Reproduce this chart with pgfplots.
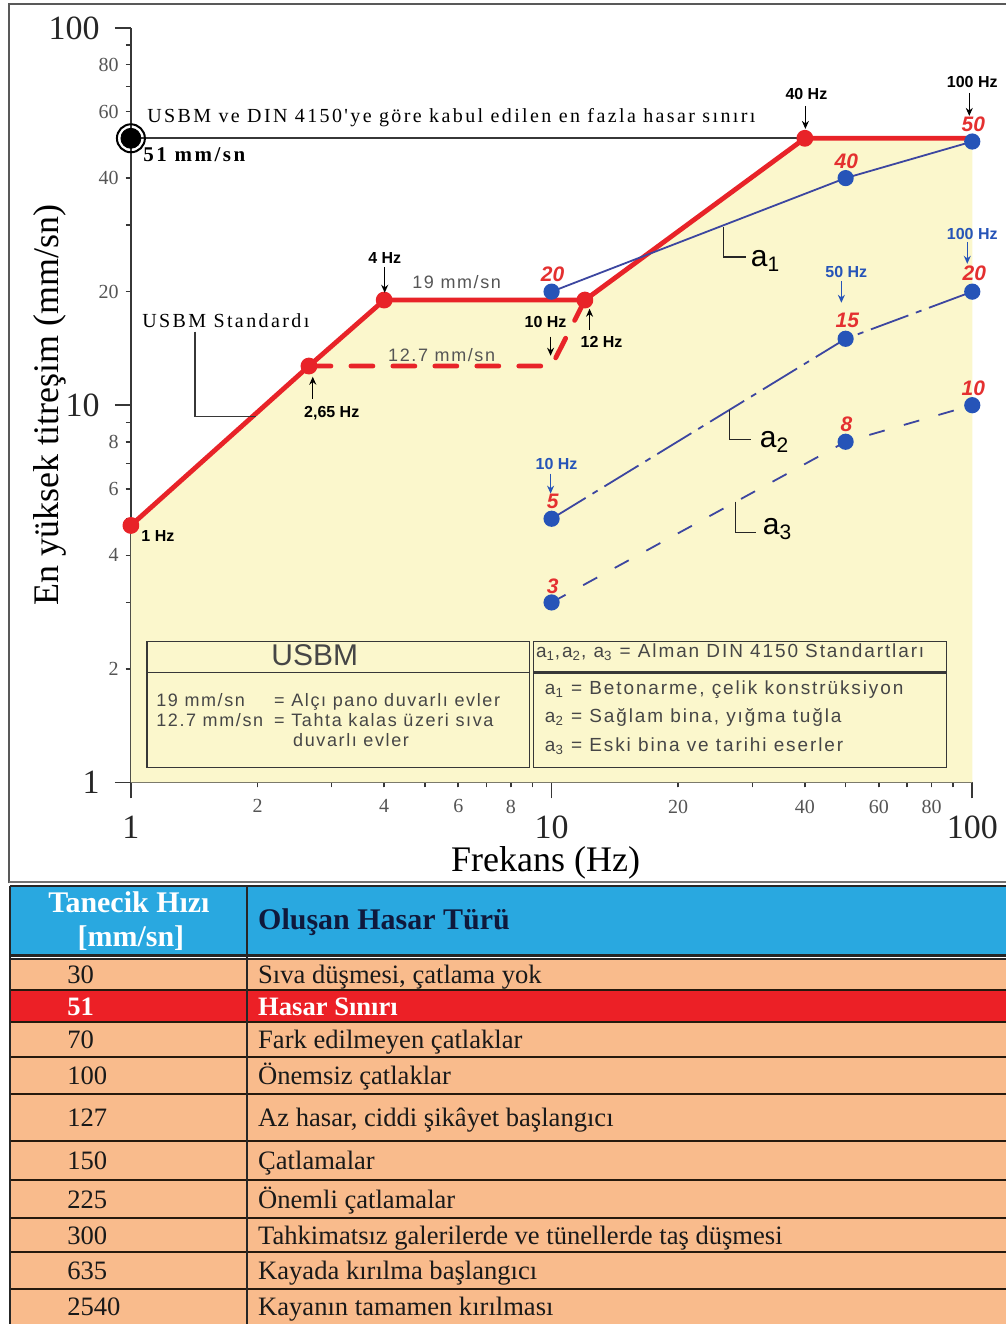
\documentclass[border=0pt]{standalone}
\usepackage{fontspec}
\setmainfont{Liberation Serif}
\setsansfont{Liberation Sans}
\newfontfamily\spserif[LetterSpace=12]{Liberation Serif}
\newfontfamily\spsans[LetterSpace=9]{Liberation Sans}
\newfontfamily\spsansb[LetterSpace=10]{Liberation Sans}
\usepackage{pgfplots}
\pgfplotsset{compat=1.18}
\usetikzlibrary{arrows.meta}
\definecolor{yel}{RGB}{251,247,204}
\definecolor{redl}{RGB}{232,35,40}
\definecolor{bluem}{RGB}{38,84,184}
\definecolor{bluel}{RGB}{60,70,160}
\definecolor{rednum}{RGB}{228,48,48}
\definecolor{orangec}{RGB}{249,187,140}
\definecolor{headblue}{RGB}{41,168,224}
\definecolor{rowred}{RGB}{236,32,38}
\definecolor{axgray}{RGB}{55,55,55}
\definecolor{txtgray}{RGB}{85,85,85}
\definecolor{boxtxt}{RGB}{70,70,70}
\definecolor{navy}{RGB}{15,25,60}
\newcommand\fs[1]{\fontsize{#1}{#1}\selectfont}
\begin{document}
\begin{tikzpicture}
\begin{scope}[x=0.5pt,y=-0.5pt]
\path[use as bounding box, fill=white] (0,0) rectangle (1007,1325);
\end{scope}
\begin{axis}[
  at={(65.5pt,-391.5pt)}, anchor=south west,
  scale only axis, width=421pt, height=377.5pt,
  xmode=log, ymode=log, xmin=1, xmax=100, ymin=1, ymax=100,
  axis x line*=bottom, axis y line*=left,
  axis line style={axgray, line width=1pt},
  tick align=outside,
  xtick={1,10,100}, xticklabels={1,10,100},
  ytick={1,10,100}, yticklabels={1,10,100},
  minor xtick={2,3,4,5,6,7,8,9,20,30,40,50,60,70,80,90},
  minor ytick={2,3,4,5,6,7,8,9,20,30,40,50,60,70,80,90},
  major tick length=8pt, minor tick length=2.5pt,
  tick style={axgray, line width=0.8pt},
  xticklabel style={font=\fs{17}, text=black!85, anchor=north, inner sep=0pt, yshift=-8.5pt},
  yticklabel style={font=\fs{17}, text=black!85, anchor=east, inner sep=0pt, xshift=-7.5pt},
  extra x ticks={2,4,6,8,20,40,60,80}, extra x tick labels={2,4,6,8,20,40,60,80},
  extra y ticks={2,4,6,8,20,40,60,80}, extra y tick labels={2,4,6,8,20,40,60,80},
  extra x tick style={major tick length=2.5pt, xticklabel style={font=\fs{10}, text=txtgray, yshift=2.5pt}},
  extra y tick style={major tick length=2.5pt, yticklabel style={font=\fs{10}, text=txtgray, xshift=4pt}},
  clip=false,
]
\addplot[fill=yel, draw=none] coordinates {(1,1) (1,4.8) (2.65,12.7) (4,19) (12,19) (40,51) (100,51) (100,1)};
\addplot[axgray, line width=1pt] coordinates {(1,51) (100,51)};
\addplot[redl, line width=2.4pt, line join=round, mark=*, mark size=3pt, mark options={solid, fill=redl, draw=redl}, mark indices={1,2,3,4,5}] coordinates {(1,4.8) (2.65,12.7) (4,19) (12,19) (40,51) (100,51)};
\addplot[redl, line width=2.4pt, dash pattern=on 11pt off 10pt, line cap=round] coordinates {(2.65,12.7) (10,12.7) (12,19)};
\addplot[bluel, line width=0.9pt, mark=*, mark size=3.6pt, mark options={solid, fill=bluem, draw=bluem}] coordinates {(10,20) (50,40) (100,50)};
\addplot[bluel, line width=0.9pt, dash pattern=on 20pt off 4pt on 3pt off 4pt, mark=*, mark size=3.6pt, mark options={solid, fill=bluem, draw=bluem}] coordinates {(10,5) (50,15) (100,20)};
\addplot[bluel, line width=0.9pt, dash pattern=on 8pt off 10pt, mark=*, mark size=3.6pt, mark options={solid, fill=bluem, draw=bluem}] coordinates {(10,3) (50,8) (100,10)};
\addplot[only marks, mark=o, mark size=7pt, mark options={line width=1pt, draw=black}] coordinates {(1,51)};
\addplot[only marks, mark=*, mark size=5pt, mark options={fill=black, draw=black}] coordinates {(1,51)};
\end{axis}
\begin{scope}[x=0.5pt,y=-0.5pt,
  hz/.style={font=\sffamily\bfseries\fs{8}, inner sep=0pt},
  rn/.style={font=\sffamily\bfseries\itshape\fs{10.5}, text=rednum, inner sep=0pt},
  arr/.style={-{Stealth[length=4pt,width=3.5pt]}, line width=0.7pt},
  bx/.style={anchor=base west, inner sep=0pt, font=\spsans\fs{9}, text=boxtxt},
  dx/.style={anchor=base west, inner sep=0pt, font=\spsansb\fs{9.5}, text=boxtxt},
  tb/.style={anchor=base west, inner sep=0pt, font=\fs{13.3}, text=black!90}]
% frame
\draw[black!65, line width=1.2pt] (9,884) -- (9,4) -- (1007,4);
\draw[black!55, line width=1pt] (9,882.5) -- (1007,882.5);
% axis labels
\node[rotate=90, font=\fs{18}, inner sep=0pt] at (50,405) {En yüksek titreşim (mm/sn)};
\node[anchor=base, font=\fs{18}, inner sep=0pt] at (546,872) {Frekans (Hz)};
% limit line texts
\node[anchor=base west, inner sep=0pt, font=\spserif\fs{10}] at (147,123) {USBM ve DIN 4150'ye göre kabul edilen en fazla hasar sınırı};
\node[anchor=base west, inner sep=0pt, font=\spserif\bfseries\fs{10.5}] at (143,162) {51 mm/sn};
\node[anchor=base west, inner sep=0pt, font=\spserif\fs{10}] at (142,328) {USBM Standardı};
\draw[axgray, line width=0.7pt] (195,332) -- (195,417) -- (256,417);
% Hz annotations
\node[hz] at (385,258) {4 Hz}; \draw[arr] (385,267) -- (385,293);
\node[hz] at (546,322) {10 Hz}; \draw[arr] (551,337) -- (551,356);
\node[hz] at (602,342) {12 Hz}; \draw[arr] (590,330) -- (590,309);
\node[hz] at (332,413) {2,65 Hz}; \draw[arr] (313,399) -- (313,377);
\node[hz] at (158,536) {1 Hz};
\node[hz] at (807,94) {40 Hz}; \draw[arr] (806,106) -- (806,129);
\node[hz] at (973,82) {100 Hz}; \draw[arr] (970,93) -- (970,116);
\node[hz, text=bluem] at (973,234) {100 Hz}; \draw[arr, bluem] (968,242) -- (968,264);
\node[hz, text=bluem] at (847,272) {50 Hz}; \draw[arr, bluem] (842,281) -- (842,303);
\node[hz, text=bluem] at (557,464) {10 Hz}; \draw[arr, bluem] (551,474) -- (551,494);
% red values
\node[rn] at (553,274) {20};
\node[rn] at (847,161) {40};
\node[rn] at (974,124) {50};
\node[rn] at (975,273) {20};
\node[rn] at (848,321) {15};
\node[rn] at (974,389) {10};
\node[rn] at (847,425) {8};
\node[rn] at (553,502) {5};
\node[rn] at (553,587) {3};
% mm/sn labels
\node[font=\spsans\fs{9}, text=txtgray, inner sep=0pt] at (457,282) {19 mm/sn};
\node[font=\spsans\fs{9}, text=txtgray, inner sep=0pt] at (442,355) {12.7 mm/sn};
% a labels
\draw[black!85, line width=0.7pt] (724,227) -- (724,257) -- (747,257);
\node[anchor=base west, inner sep=0pt, font=\sffamily\fs{15}] at (751,267) {a\textsubscript{1}};
\draw[black!85, line width=0.7pt] (730,410) -- (730,440) -- (752,440);
\node[anchor=base west, inner sep=0pt, font=\sffamily\fs{15}] at (760,448) {a\textsubscript{2}};
\draw[black!85, line width=0.7pt] (736,502) -- (736,533) -- (757,533);
\node[anchor=base west, inner sep=0pt, font=\sffamily\fs{15}] at (763,535) {a\textsubscript{3}};
% USBM box
\draw[axgray, line width=0.8pt] (147,642) rectangle (530,768);
\draw[axgray, line width=0.8pt] (147,673) -- (530,673);
\node[font=\sffamily\fs{15}, text=boxtxt, inner sep=0pt] at (315,656) {USBM};
\node[bx] at (156,707) {19 mm/sn};
\node[bx] at (274,707) {= Alçı pano duvarlı evler};
\node[bx] at (156,727) {12.7 mm/sn};
\node[bx] at (274,727) {= Tahta kalas üzeri sıva};
\node[bx] at (293,747) {duvarlı evler};
% DIN box
\draw[axgray, line width=0.8pt] (534,642) rectangle (947,768);
\draw[axgray, line width=1.6pt] (534,673) -- (947,673);
\node[dx] at (536,658) {a\textsubscript{1},a\textsubscript{2}, a\textsubscript{3} = Alman DIN  4150 Standartları};
\node[dx] at (545,695) {a\textsubscript{1} = Betonarme, çelik konstrüksiyon};
\node[dx] at (545,723) {a\textsubscript{2} = Sağlam bina, yığma tuğla};
\node[dx] at (545,752) {a\textsubscript{3} = Eski bina ve tarihi eserler};
% table
\fill[headblue] (10,887) rectangle (1007,956);
\fill[orangec] (10,960) rectangle (1007,1325);
\fill[rowred] (10,991) rectangle (1007,1023);
\draw[black!85, line width=0.8pt] (10,886.5) -- (1007,886.5);
\draw[black!85, line width=1.3pt] (10,956) -- (1007,956);
\draw[black!85, line width=0.8pt] (10,960) -- (1007,960);
\foreach \y in {991,1023,1058,1095,1142,1181,1219,1253,1290}
  \draw[black!80!brown, line width=0.9pt] (10,\y) -- (1007,\y);
\draw[black!85, line width=1pt] (247,886.5) -- (247,1325);
\draw[black!85, line width=1pt] (10,886.5) -- (10,1325);
\node[anchor=base, inner sep=0pt, font=\bfseries\fs{15}, text=white] at (129,913) {Tanecik Hızı};
\node[anchor=base, inner sep=0pt, font=\bfseries\fs{15}, text=white] at (131,947) {[mm/sn]};
\node[anchor=base west, inner sep=0pt, font=\bfseries\fs{15}, text=navy] at (258,930) {Oluşan Hasar Türü};
\node[tb] at (67,984.5) {30};   \node[tb] at (258,984.5) {Sıva düşmesi, çatlama yok};
\node[tb, font=\bfseries\fs{13.3}, text=white] at (67,1016) {51};   \node[tb, font=\bfseries\fs{13.3}, text=white] at (258,1016) {Hasar Sınırı};
\node[tb] at (67,1049.5) {70};  \node[tb] at (258,1049.5) {Fark edilmeyen çatlaklar};
\node[tb] at (67,1085.5) {100}; \node[tb] at (258,1085.5) {Önemsiz çatlaklar};
\node[tb] at (67,1127.5) {127}; \node[tb] at (258,1127.5) {Az hasar, ciddi şikâyet başlangıcı};
\node[tb] at (67,1170.5) {150}; \node[tb] at (258,1170.5) {Çatlamalar};
\node[tb] at (67,1209) {225};   \node[tb] at (258,1209) {Önemli çatlamalar};
\node[tb] at (67,1245) {300};   \node[tb] at (258,1245) {Tahkimatsız galerilerde ve tünellerde taş düşmesi};
\node[tb] at (67,1280.5) {635}; \node[tb] at (258,1280.5) {Kayada kırılma başlangıcı};
\node[tb] at (67,1316.5) {2540};\node[tb] at (258,1316.5) {Kayanın tamamen kırılması};
\end{scope}
\end{tikzpicture}
\end{document}
